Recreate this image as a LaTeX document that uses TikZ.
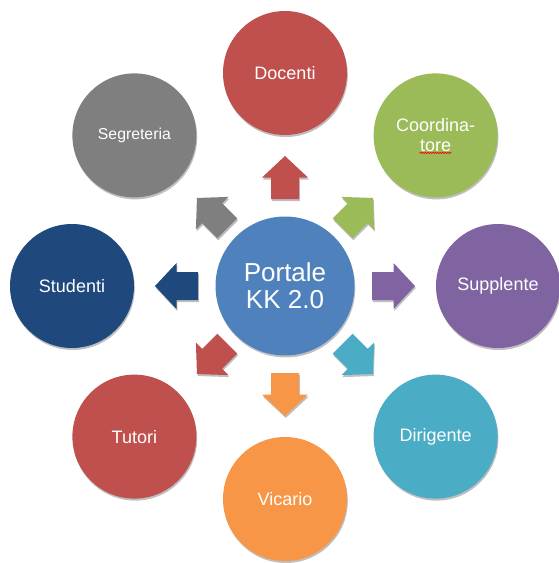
\documentclass[tikz,border=0pt]{standalone}
\usepackage{fontspec}
\setmainfont{Liberation Sans}
\usetikzlibrary{shadows,decorations.pathmorphing,calc}
\definecolor{hubblue}{HTML}{4F81BD}
\definecolor{cred}{HTML}{C0504D}
\definecolor{cgreen}{HTML}{9BBB59}
\definecolor{cpurple}{HTML}{8064A2}
\definecolor{caqua}{HTML}{4BACC6}
\definecolor{corange}{HTML}{F79646}
\definecolor{cnavy}{HTML}{1F497D}
\definecolor{cgray}{HTML}{7F7F7F}
\tikzset{
  softshadow/.style={drop shadow={shadow xshift=0.8pt, shadow yshift=-2pt, opacity=0.25, fill=black}},
  roundbox/.style={circle, minimum size=124pt, inner sep=0pt, text=white,
    font=\fontsize{18}{20}\selectfont, align=center, softshadow},
  hubbox/.style={circle, minimum size=139pt, inner sep=0pt, text=white, fill=hubblue,
    font=\fontsize{26}{27}\selectfont, align=center, softshadow},
  arrowfill/.style={softshadow}
}
\newcommand\blockarrow[3]{%
  \fill[#3, arrowfill, shift={(#1)}, rotate=#2]
    (-21.5,-14) -- (0,-14) -- (0,-23) -- (21.5,0) -- (0,23) -- (0,14) -- (-21.5,14) -- cycle;}
\begin{document}
\begin{tikzpicture}[x=1pt,y=1pt]
\useasboundingbox (0,0) rectangle (558,-563);
\node[hubbox] (c) at (285,-286) {Portale\\KK 2.0};
\node[roundbox, fill=cred]    (doc) at ($(c)+(90:213)$)   {Docenti};
\node[roundbox, fill=cgreen]  (coo) at ($(c)+(45:213)$)   {Coordina-\\tore};
\node[roundbox, fill=cpurple] (sup) at ($(c)+(0:213)$)    {Supplente};
\node[roundbox, fill=caqua]   (dir) at ($(c)+(-45:213)$)  {Dirigente};
\node[roundbox, fill=corange] (vic) at ($(c)+(-90:213)$)  {Vicario};
\node[roundbox, fill=cred]    (tut) at ($(c)+(-135:213)$) {Tutori};
\node[roundbox, fill=cnavy]   (stu) at ($(c)+(180:213)$)  {Studenti};
\node[roundbox, fill=cgray, font=\fontsize{15.8}{18}\selectfont] (seg) at ($(c)+(135:213)$) {Segreteria};
\draw[red, line width=0.6pt, decorate, decoration={snake, amplitude=0.7pt, segment length=2.5pt}]
  ($(coo)+(-16,-17.5)$) -- ($(coo)+(16,-17.5)$);
\coordinate (a1) at ($(c)+(90:108.5)$);
\coordinate (a2) at ($(c)+(45:103)$);
\coordinate (a3) at ($(c)+(0:108.5)$);
\coordinate (a4) at ($(c)+(-45:103)$);
\coordinate (a5) at ($(c)+(-90:108.5)$);
\coordinate (a6) at ($(c)+(-135:103)$);
\coordinate (a7) at ($(c)+(180:108.5)$);
\coordinate (a8) at ($(c)+(135:103)$);
\blockarrow{a1}{90}{cred}
\blockarrow{a2}{45}{cgreen}
\blockarrow{a3}{0}{cpurple}
\blockarrow{a4}{-45}{caqua}
\blockarrow{a5}{-90}{corange}
\blockarrow{a6}{-135}{cred}
\blockarrow{a7}{180}{cnavy}
\blockarrow{a8}{135}{cgray}
\end{tikzpicture}
\end{document}
